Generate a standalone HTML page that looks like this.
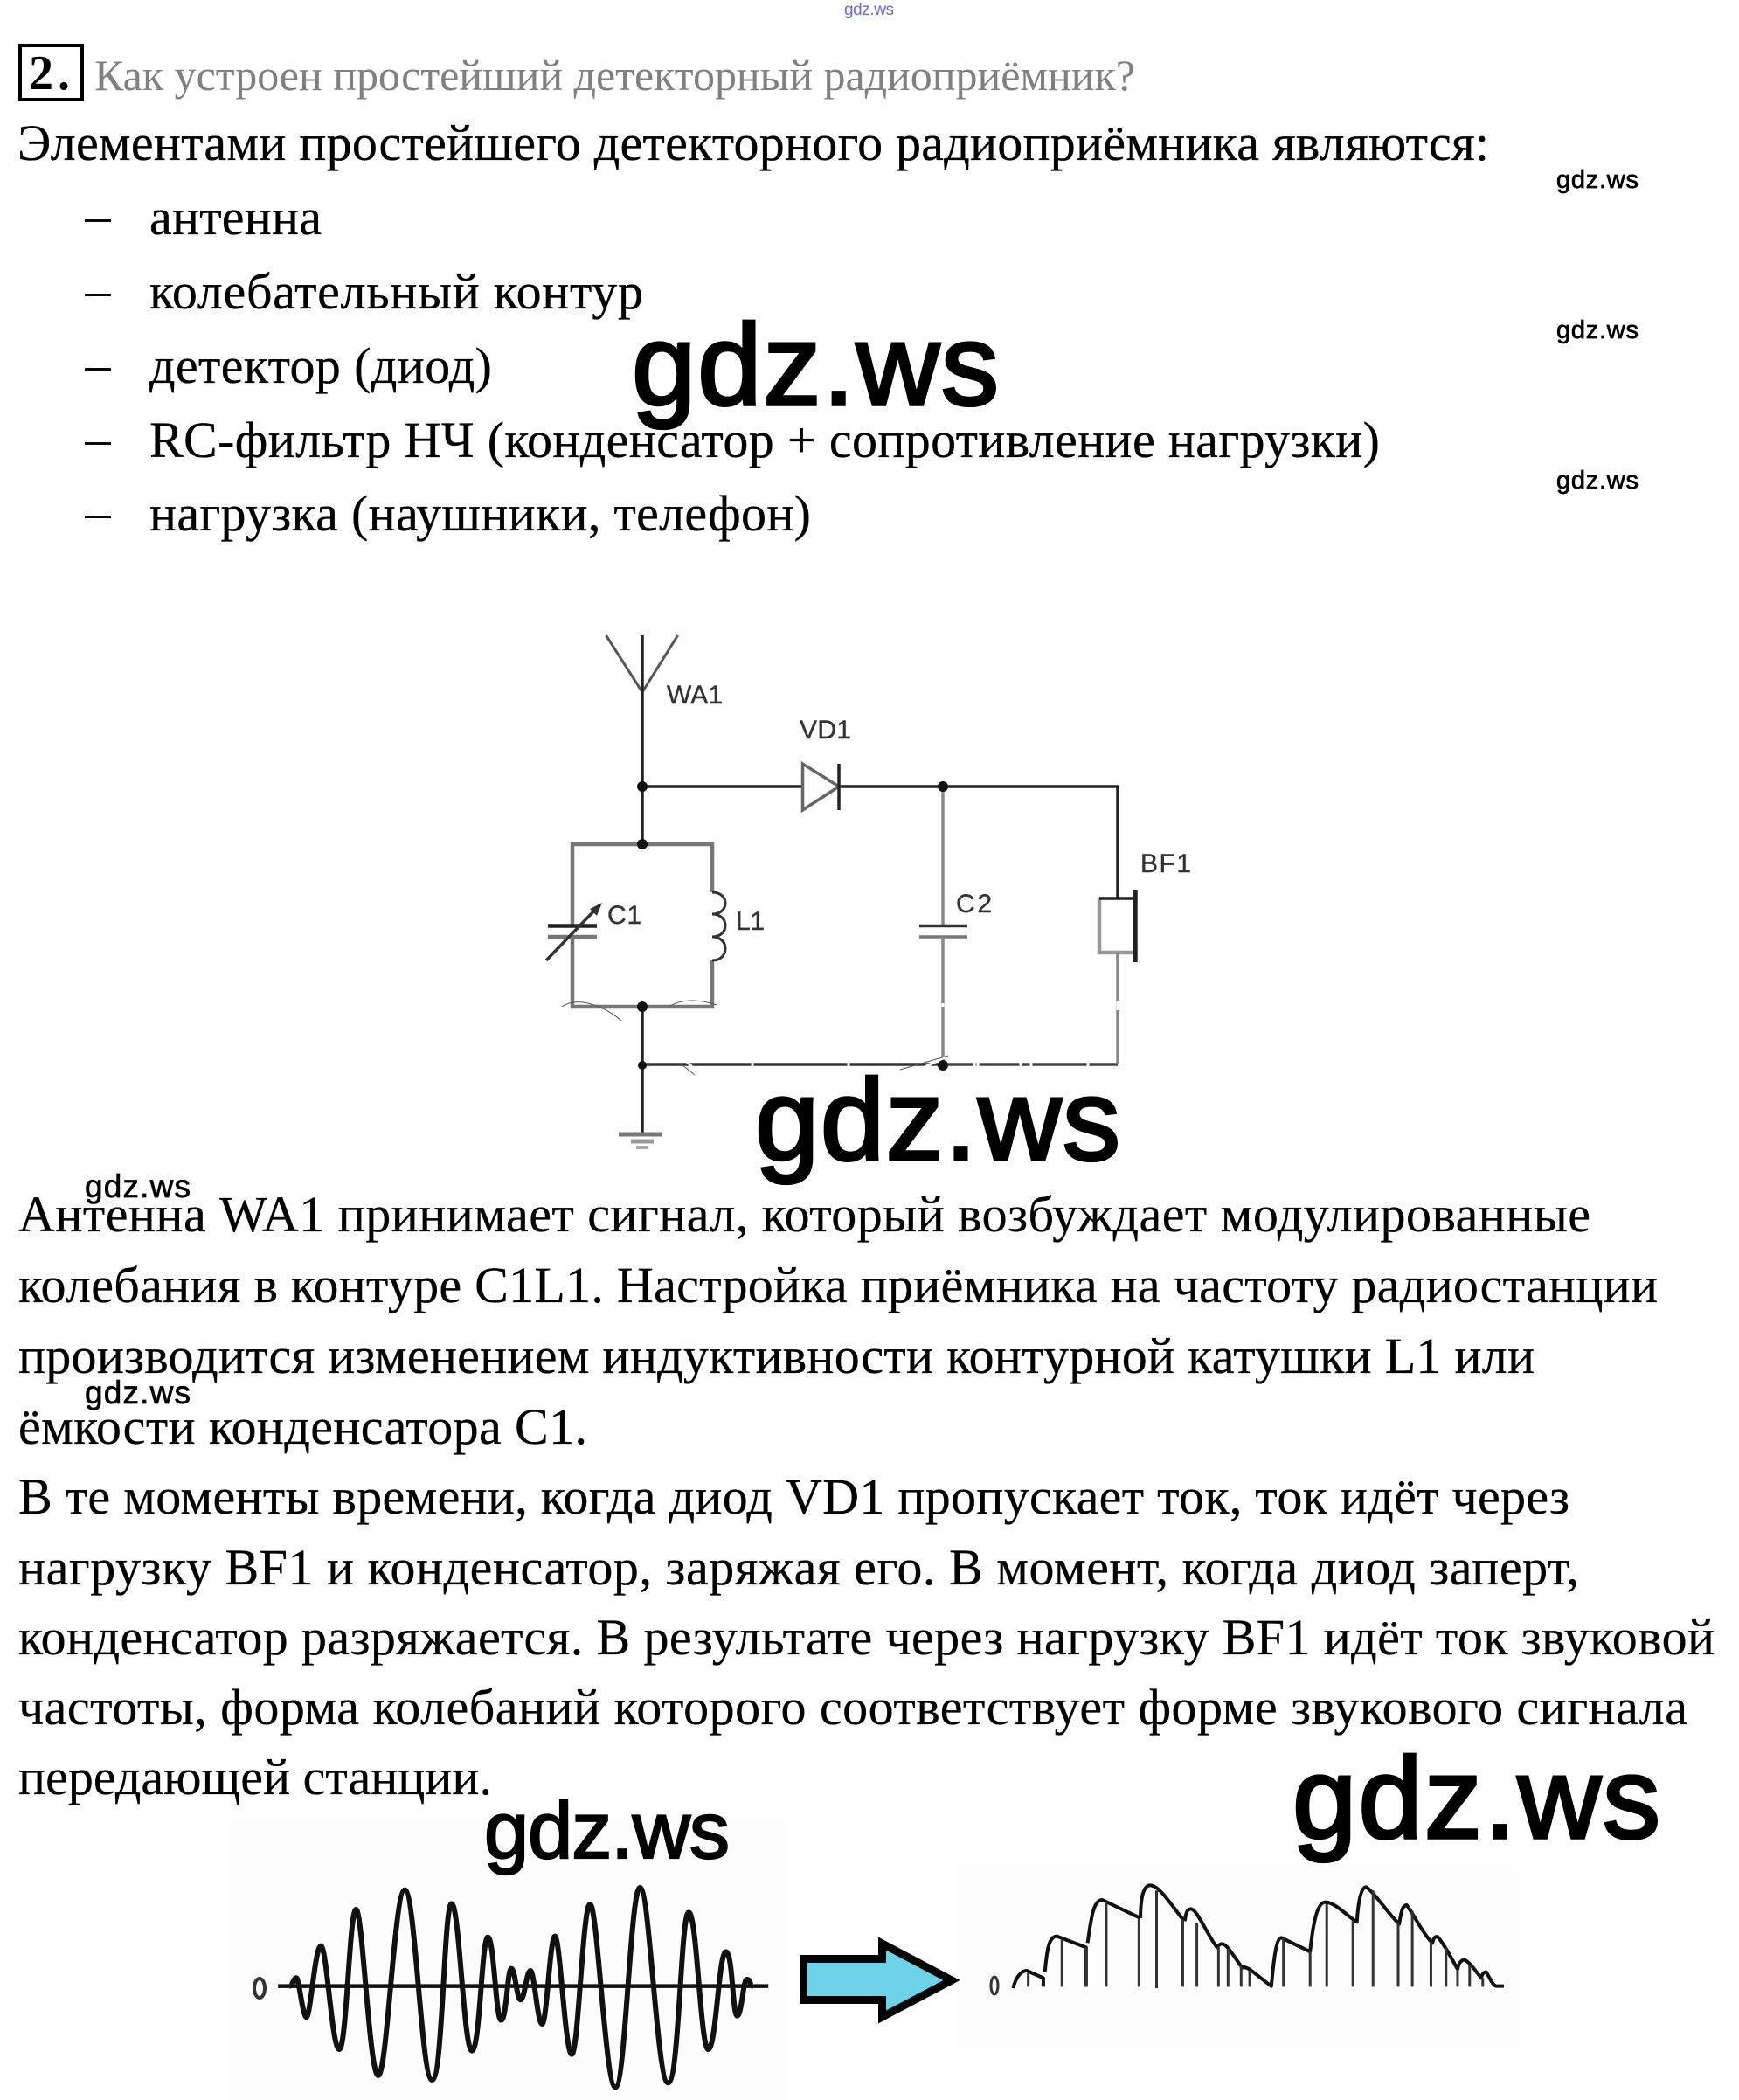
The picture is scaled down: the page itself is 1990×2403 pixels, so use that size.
<!DOCTYPE html>
<html lang="ru">
<head>
<meta charset="utf-8">
<title>gdz.ws</title>
<style>
html,body{margin:0;padding:0;background:#fff}
svg{display:block}
.t{font-family:"Liberation Serif","Noto Serif CJK SC",serif;font-size:58px;fill:#000;stroke:#000;stroke-width:.3}
.w{font-family:"Liberation Sans",sans-serif;fill:#000;stroke:#000}
.l{font-family:"Liberation Sans",sans-serif;font-size:30px;fill:#333;stroke:#333;stroke-width:.4}
</style>
</head>
<body>
<svg xmlns="http://www.w3.org/2000/svg" width="1990" height="2403" viewBox="0 0 1990 2403">
<rect width="1990" height="2403" fill="#fff"/>

<!-- Text top -->
<text x="966" y="17" font-family="Liberation Sans, sans-serif" font-size="19" fill="#6a6ad8" textLength="57">gdz.ws</text>
<rect x="23" y="52" width="71" height="62" fill="none" stroke="#000" stroke-width="4"/>
<text x="33" y="102" font-family="Liberation Serif, serif" font-weight="bold" font-size="56" fill="#000" textLength="47">2.</text>
<text class="t" x="108" y="103" style="font-size:50px;fill:#808080;stroke:none" textLength="1191">Как устроен простейший детекторный радиоприёмник?</text>
<text class="t" x="20" y="183" textLength="1684">Элементами простейшего детекторного радиоприёмника являются:</text>
<g fill="#0a0a0a">
<rect x="97" y="251" width="30" height="3"/>
<rect x="97" y="336" width="30" height="3"/>
<rect x="97" y="421" width="30" height="3"/>
<rect x="97" y="506" width="30" height="3"/>
<rect x="97" y="590" width="30" height="3"/>
</g>
<text class="t" x="171" y="268" textLength="197">антенна</text>
<text class="t" x="171" y="353" textLength="565">колебательный контур</text>
<text class="t" x="171" y="438" textLength="392">детектор (диод)</text>
<text class="t" x="171" y="523" textLength="1408">RC-фильтр НЧ (конденсатор + сопротивление нагрузки)</text>
<text class="t" x="171" y="607" textLength="757">нагрузка (наушники, телефон)</text>

<!-- Paragraphs -->
<text class="t" x="21" y="1409" textLength="1799">Антенна WA1 принимает сигнал, который возбуждает модулированные</text>
<text class="t" x="21" y="1490" textLength="1876">колебания в контуре C1L1. Настройка приёмника на частоту радиостанции</text>
<text class="t" x="21" y="1571" textLength="1735">производится изменением индуктивности контурной катушки L1 или</text>
<text class="t" x="21" y="1652" textLength="651">ёмкости конденсатора C1.</text>
<text class="t" x="21" y="1732" textLength="1775">В те моменты времени, когда диод VD1 пропускает ток, ток идёт через</text>
<text class="t" x="21" y="1813" textLength="1786">нагрузку BF1 и конденсатор, заряжая его. В момент, когда диод заперт,</text>
<text class="t" x="21" y="1893" textLength="1941">конденсатор разряжается. В результате через нагрузку BF1 идёт ток звуковой</text>
<text class="t" x="21" y="1973" textLength="1910">частоты, форма колебаний которого соответствует форме звукового сигнала</text>
<text class="t" x="21" y="2053" textLength="542">передающей станции.</text>

<!-- Circuit -->
<g fill="none" stroke-linecap="butt">
  <path d="M693.5 727L735 792L775.6 727" stroke="#555" stroke-width="3"/>
  <path d="M735 727V965" stroke="#222" stroke-width="3.5"/>
  <path d="M735 900H918" stroke="#222" stroke-width="3.5"/>
  <path d="M960 900H1279V1028" stroke="#222" stroke-width="3.5"/>
  <path d="M918.5 874V927L960 900Z" stroke="#666" stroke-width="3.5" fill="#fff"/>
  <path d="M960 874V927" stroke="#222" stroke-width="3.5"/>
  <path d="M655 1059V966H815V1021" stroke="#777" stroke-width="4.5"/>
  <path d="M655 1072V1152H815V1099" stroke="#777" stroke-width="4.5"/>
  <path d="M815 1021c20 0 20 25 0 25c20 0 20 26 0 26c20 0 20 27 0 27" stroke="#333" stroke-width="3"/>
  <path d="M627 1059.5H683" stroke="#222" stroke-width="4.5"/>
  <path d="M627 1072H683" stroke="#777" stroke-width="4.5"/>
  <path d="M625 1099L684 1038" stroke="#333" stroke-width="3.5"/>
  <path d="M735 1152V1297" stroke="#222" stroke-width="3.5"/>
  <path d="M735 1218H1079" stroke="#333" stroke-width="3.5"/>
  <path d="M1079 1218H1279" stroke="#444" stroke-width="3.5"/>
  <path d="M1079 900V1059" stroke="#888" stroke-width="3.5"/>
  <path d="M1052 1059.5H1107" stroke="#333" stroke-width="3.5"/>
  <path d="M1052 1072H1107" stroke="#777" stroke-width="3.5"/>
  <path d="M1079 1072V1218" stroke="#888" stroke-width="3.5"/>
  <path d="M1258 1028V1090H1299" stroke="#999" stroke-width="4.5" fill="none"/>
  <path d="M1258 1028H1299" stroke="#222" stroke-width="3.5"/>
  <path d="M1299 1018V1101" stroke="#222" stroke-width="5.5"/>
  <path d="M1279 1090V1218" stroke="#888" stroke-width="3.5"/>
  <path d="M708 1298H757" stroke="#777" stroke-width="5"/>
  <path d="M722 1306H748" stroke="#999" stroke-width="5"/>
  <path d="M728 1313H742" stroke="#aaa" stroke-width="4"/>
</g>
<path d="M689 1033L675 1040L683 1048Z" fill="#333"/>
<g fill="#111">
  <circle cx="735" cy="900" r="6"/><circle cx="735" cy="966" r="6"/>
  <circle cx="1079" cy="900" r="6"/><circle cx="735" cy="1152" r="6"/>
  <circle cx="735" cy="1219" r="5"/><circle cx="1079" cy="1219" r="6"/>
</g>
<!-- scratches -->
<g fill="none" stroke="#fff" stroke-width="3">
  <path d="M783 1212L795 1224M861 1212V1224M971 1212V1224M1115 1212V1224M1119 1212V1224M1050 1225L1085 1208M1168 1212V1224M1180 1212V1224M1245 1212V1224M1079 1148V1152M1279 1145L1279 1156"/>
</g>
<g fill="none" stroke="#555" stroke-width="1">
  <path d="M643 1152C660 1140 690 1150 711 1168"/>
  <path d="M765 1152C780 1143 800 1143 820 1150"/>
  <path d="M1030 1224L1085 1208"/>
  <path d="M780 1218L795 1230"/>
</g>
<text class="l" x="763" y="805" textLength="64">WA1</text>
<text class="l" x="915" y="845" textLength="59">VD1</text>
<text class="l" x="695" y="1057" textLength="39">C1</text>
<text class="l" x="842" y="1064" textLength="33">L1</text>
<text class="l" x="1094" y="1044" textLength="41">C2</text>
<text class="l" x="1305" y="998" textLength="58">BF1</text>

<!-- Wave backgrounds -->
<rect x="260" y="2080" width="638" height="323" fill="#fdfdfd"/>
<rect x="1092" y="2133" width="645" height="212" fill="#fdfdfd"/>

<!-- Left wave -->
<g transform="translate(240 2050) scale(0.4464 0.3333)" fill="none" stroke="#111">
  <path vector-effect="non-scaling-stroke" stroke-width="4.5" d="M175 668H1432"/>
  <path vector-effect="non-scaling-stroke" stroke-width="6" d="M205 668C212 668 215 640 222 640S238 775 248 775S270 530 285 530S313 885 332 885S358 405 375 405S409 975 432 975S473 338 500 338S542 990 570 990S600 385 620 385S651 890 672 890S697 500 713 500S733 785 747 785S763 608 773 608S787 715 797 715S812 615 822 615S840 798 852 798S872 497 885 497S911 902 928 902S956 387 975 387S1014 1015 1040 1015S1078 330 1103 330S1146 1000 1175 1000S1207 415 1228 415S1258 885 1278 885S1305 550 1323 550S1340 770 1352 770S1367 645 1377 645S1385 668 1392 668"/>
</g>
<ellipse cx="297" cy="2275" rx="6" ry="11" fill="none" stroke="#333" stroke-width="4"/>

<!-- Arrow -->
<polygon points="919.5,2241.5 1009.5,2241.5 1009.5,2224 1089,2266 1009.5,2308 1009.5,2288.5 919.5,2288.5" fill="#6dd3e8" stroke="#000" stroke-width="9"/>

<!-- Right wave -->
<g transform="translate(880 2100) scale(0.576 0.3333)" fill="none" stroke="#111">
  <path vector-effect="non-scaling-stroke" stroke-width="4" stroke-linejoin="round" d="M485 525C490 490 500 465 512 465L545 490V520M548 470C552 400 555 347 572 347L630 385V520M633 370C640 280 645 222 662 222L738 285M738 285C738 210 745 172 757 172C775 172 795 230 825 295M826 295C828 270 830 253 838 253C850 253 870 340 890 385C892 380 895 373 900 373C910 373 925 420 940 455C942 452 945 452 947 455C955 455 975 490 998 518C1003 420 1008 352 1018 352L1075 400C1078 350 1085 230 1105 230C1125 230 1150 280 1168 298C1170 240 1175 178 1186 178C1200 190 1230 270 1252 305C1255 270 1258 240 1267 240C1280 270 1300 340 1318 370C1320 355 1322 348 1328 348C1340 370 1355 420 1368 460C1370 440 1375 428 1382 428C1395 440 1405 470 1415 490C1417 475 1420 470 1425 470C1432 490 1438 517 1445 518H1460"/>
  <path vector-effect="non-scaling-stroke" stroke-width="3" stroke="#333" d="M515 470V520M582 360V520M630 385V520M670 230V520M735 285V520M770 190V525M822 290V520M850 300V520M893 385V520M912 390V520M938 450V520M955 465V520M1022 355V520M1075 400V520M1108 235V520M1160 295V520M1200 190V520M1250 300V520M1278 260V520M1315 365V520M1345 385V520M1368 460V520M1392 445V520M1418 490V520"/>
</g>
<ellipse cx="1138" cy="2272" rx="4" ry="10" fill="none" stroke="#333" stroke-width="3"/>

<!-- Watermarks -->
<g class="w">
<text class="w" x="723" y="463" font-size="132" stroke-width="3.5" textLength="420">gdz.ws</text>
<text class="w" x="864" y="1327" font-size="132" stroke-width="3.5" textLength="418">gdz.ws</text>
<text class="w" x="1479" y="2103" font-size="132" stroke-width="3.5" textLength="421">gdz.ws</text>
<text class="w" x="554" y="2126" font-size="92" stroke-width="2.2" textLength="281">gdz.ws</text>
<text class="w" x="1781" y="215" font-size="29" stroke-width="0.7" textLength="94">gdz.ws</text>
<text class="w" x="1781" y="387" font-size="29" stroke-width="0.7" textLength="94">gdz.ws</text>
<text class="w" x="1781" y="559" font-size="29" stroke-width="0.7" textLength="94">gdz.ws</text>
<text class="w" x="97" y="1370" font-size="37" stroke-width="0.7" textLength="121">gdz.ws</text>
<text class="w" x="97" y="1606" font-size="37" stroke-width="0.7" textLength="121">gdz.ws</text>
</g>
</svg>
</body>
</html>
